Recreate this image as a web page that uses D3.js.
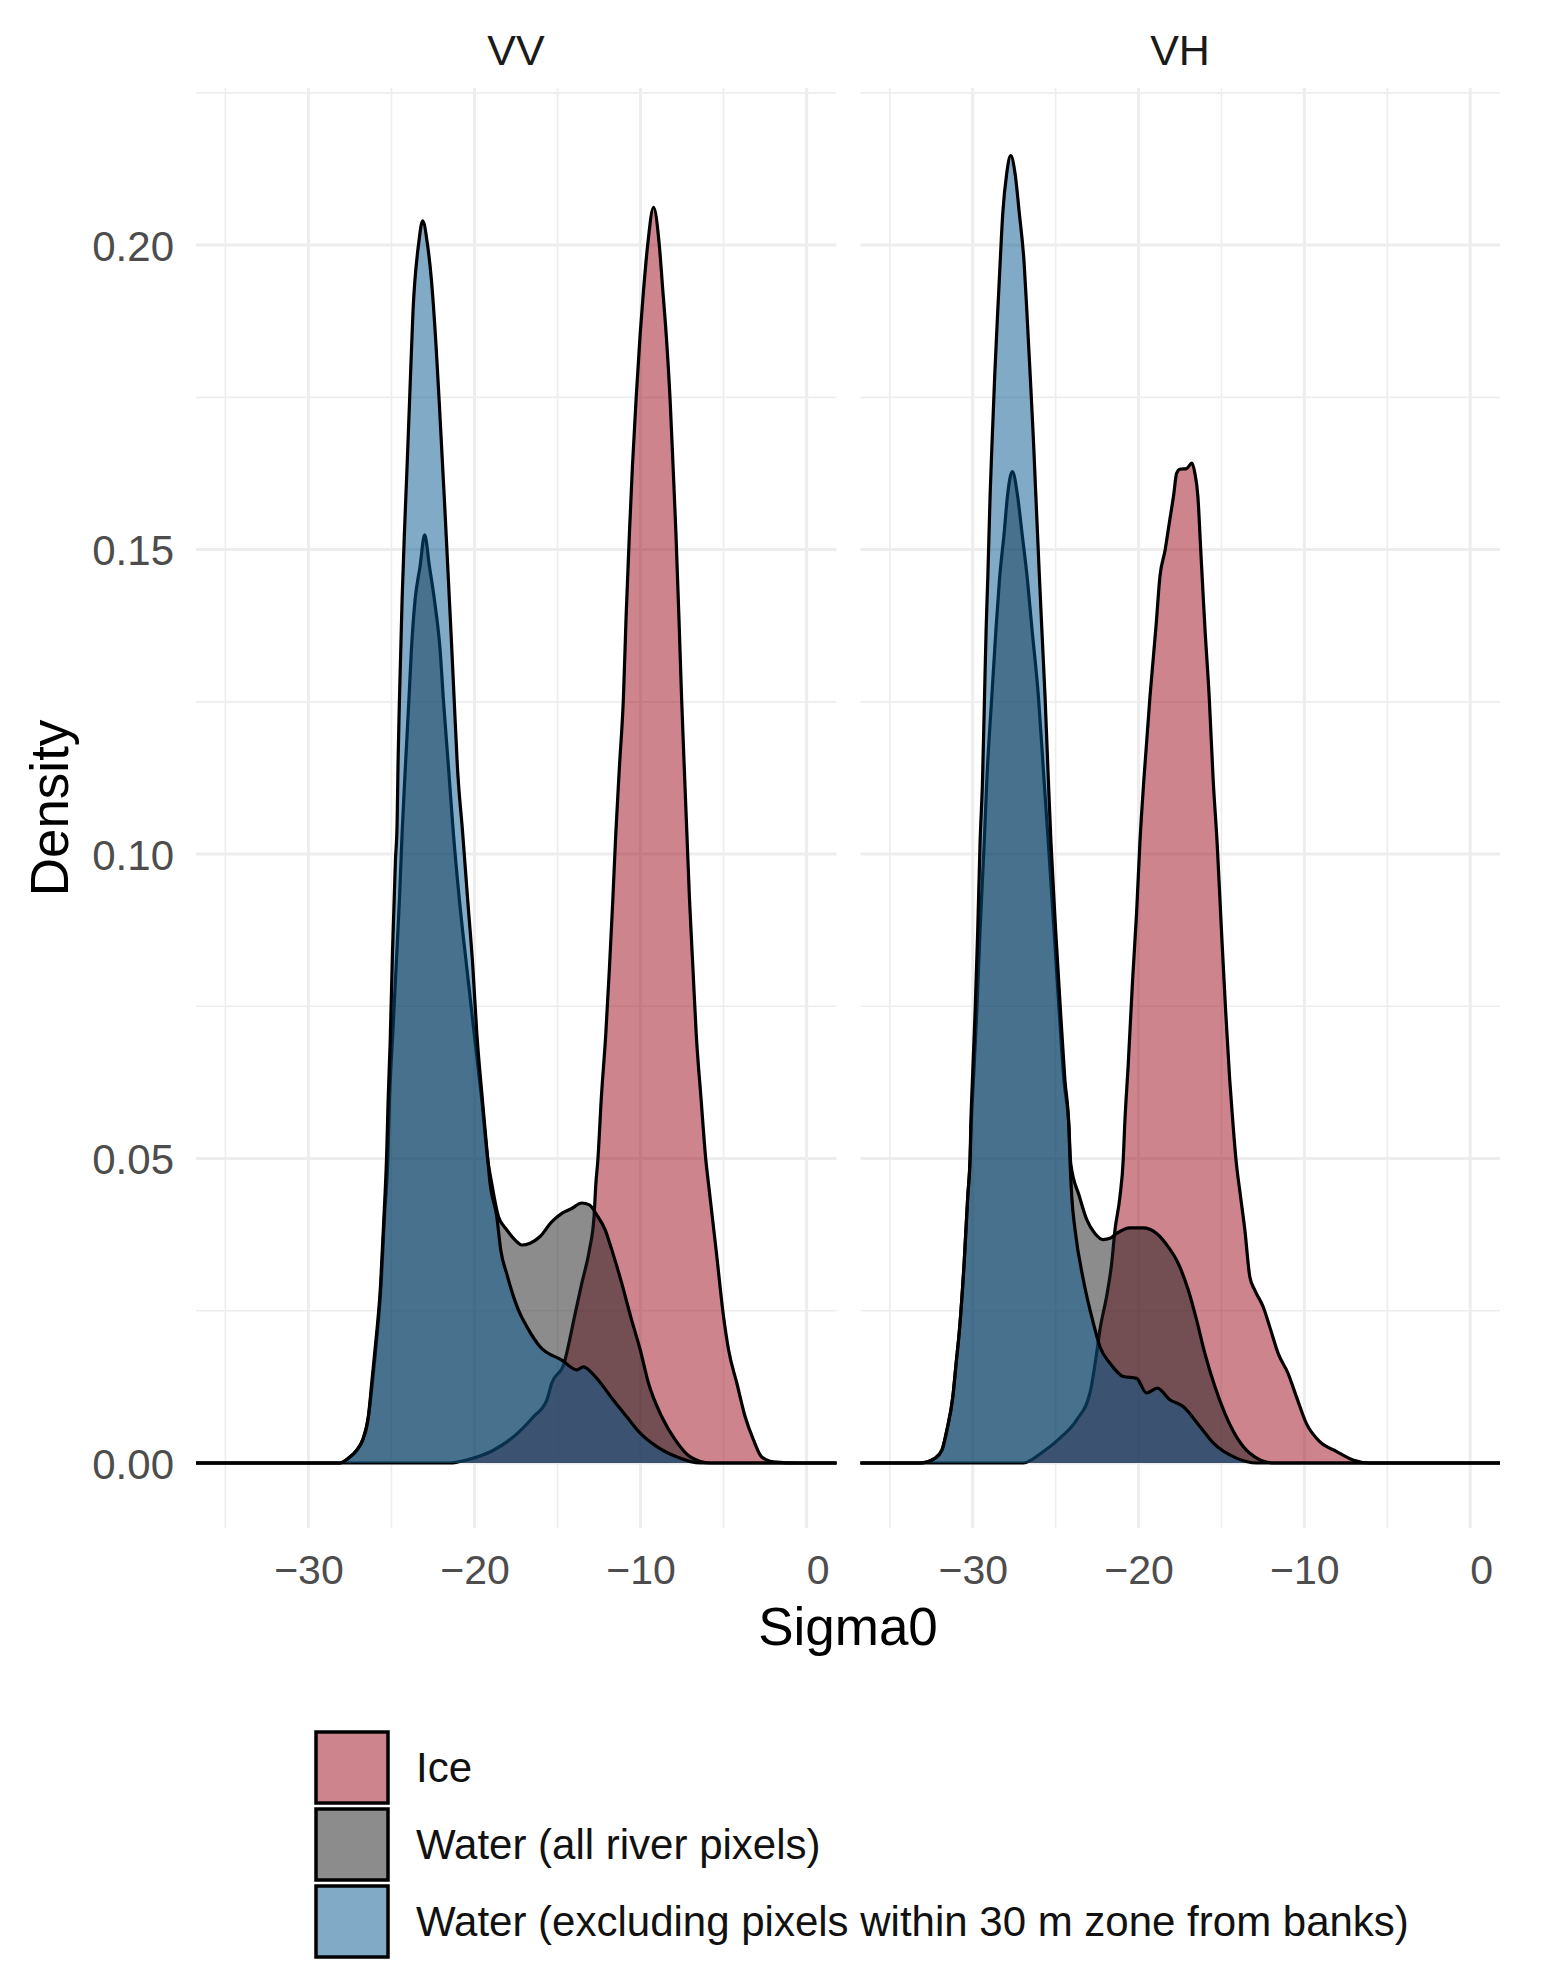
<!DOCTYPE html>
<html>
<head>
<meta charset="utf-8">
<title>Sigma0 density</title>
<script src="https://cdn.jsdelivr.net/npm/d3@7"></script>
<style>
  body { margin: 0; background: #fff; }
  text { font-family: "Liberation Sans", Arial, sans-serif; }
</style>
</head>
<body>
<svg id="chart" width="1556" height="1984"></svg>
<script>
// [Sigma0, density]
let vvIce = [[-36.77,0],[-21.47,0],[-20.47,.0005],[-18.86,.0021],[-17.65,.0043],[-16.45,.0076],[-15.65,.0103],[-15.35,.0131],[-14.6,.0164],[-14.4,.0186],[-13.98,.024],[-13.54,.0295],[-13.08,.035],[-12.8,.0405],[-12.69,.0459],[-12.57,.0498],[-12.37,.0596],[-12.09,.0706],[-11.87,.0815],[-11.67,.0925],[-11.49,.1034],[-11.27,.1144],[-11.03,.1258],[-10.87,.139],[-10.67,.1527],[-10.49,.1636],[-10.26,.1751],[-10.02,.1855],[-9.82,.1926],[-9.56,.2003],[-9.22,.2062],[-8.88,.2003],[-8.66,.1926],[-8.46,.1855],[-8.22,.1746],[-8.04,.1636],[-7.87,.1527],[-7.69,.139],[-7.53,.1258],[-7.37,.1144],[-7.21,.1034],[-7.05,.0925],[-6.85,.0815],[-6.65,.0706],[-6.35,.0596],[-6.07,.0498],[-5.91,.0459],[-5.45,.035],[-5,.024],[-4.7,.0186],[-4.2,.0131],[-3.7,.0076],[-3.2,.0038],[-2.7,.001],[-2,.0002],[-.4,0],[1.8,0]];
let vvWaterAll = [[-36.77,0],[-28.1,0],[-27.59,.0008],[-27.09,.0021],[-26.73,.0038],[-26.39,.0076],[-26.15,.0131],[-25.95,.0186],[-25.62,.0295],[-25.42,.0405],[-25.22,.0498],[-25.12,.0596],[-24.92,.0706],[-24.72,.0815],[-24.52,.0925],[-24.36,.1034],[-24.16,.1144],[-23.94,.1258],[-23.8,.1335],[-23.58,.1417],[-23.28,.1472],[-23,.1524],[-22.71,.1472],[-22.41,.1417],[-22.07,.1335],[-21.87,.1253],[-21.57,.1144],[-21.27,.1034],[-20.91,.0925],[-20.47,.0815],[-20.02,.0706],[-19.56,.0596],[-19.2,.0498],[-18.96,.0459],[-18.56,.0405],[-18.06,.0383],[-17.55,.0366],[-17.15,.0358],[-16.65,.0361],[-16.05,.0372],[-15.35,.0396],[-14.74,.041],[-14.14,.0418],[-13.54,.0427],[-13.08,.0424],[-12.63,.0407],[-12.13,.0383],[-11.73,.035],[-11.13,.0295],[-10.59,.024],[-10.02,.0186],[-9.52,.0131],[-8.72,.0076],[-7.91,.0038],[-7,.001],[-5.8,0],[1.8,0]];
let vvWaterExcl = [[-36.77,0],[-28.1,0],[-27.59,.0008],[-27.09,.0021],[-26.73,.0038],[-26.39,.0076],[-26.19,.0131],[-25.99,.0186],[-25.65,.0295],[-25.45,.0405],[-25.28,.0514],[-25.2,.0596],[-25.08,.0689],[-24.94,.0837],[-24.76,.099],[-24.66,.105],[-24.6,.1154],[-24.52,.1253],[-24.36,.1417],[-24.22,.1527],[-24.06,.1636],[-23.9,.1751],[-23.7,.1893],[-23.36,.2003],[-23.12,.204],[-22.84,.2003],[-22.61,.1948],[-22.31,.1833],[-22.13,.1746],[-21.95,.1653],[-21.81,.1581],[-21.61,.1472],[-21.41,.1362],[-21.23,.1258],[-21.03,.1144],[-20.71,.1034],[-20.41,.0925],[-20.1,.0815],[-19.86,.0706],[-19.52,.0596],[-19.2,.0498],[-19.06,.0459],[-18.66,.0405],[-18.42,.035],[-18.06,.0311],[-17.35,.0251],[-16.85,.0224],[-16.05,.0191],[-14.74,.0169],[-13.84,.0153],[-13.44,.0158],[-12.73,.0142],[-11.63,.0103],[-10.83,.0076],[-10.02,.0049],[-9.02,.0027],[-7.8,.001],[-6.4,0],[1.8,0]];

let vhIce = [[-36.77,0],[-26.95,0],[-25.74,.0019],[-24.74,.0041],[-23.73,.0071],[-22.93,.0115],[-22.53,.018],[-22.33,.0219],[-21.93,.0273],[-21.62,.0328],[-21.42,.0383],[-21.12,.0438],[-20.92,.05],[-20.84,.0552],[-20.62,.0656],[-20.36,.0793],[-20.12,.0903],[-19.92,.1018],[-19.68,.1122],[-19.31,.1259],[-18.95,.1373],[-18.71,.1456],[-18.4,.1499],[-18.15,.1543],[-17.87,.1592],[-17.71,.1625],[-17.51,.1632],[-17.11,.1633],[-16.78,.1642],[-16.6,.1625],[-16.42,.1587],[-16.26,.1505],[-16.1,.1423],[-16,.1373],[-15.74,.1259],[-15.5,.1122],[-15.26,.1018],[-15,.0875],[-14.74,.0739],[-14.5,.0629],[-14.29,.0552],[-14.13,.05],[-13.85,.0438],[-13.59,.0383],[-13.29,.0306],[-12.99,.0284],[-12.49,.0257],[-12.09,.0224],[-11.58,.018],[-10.98,.0147],[-10.48,.0109],[-9.88,.0065],[-9.07,.0035],[-8.07,.0019],[-7.07,.0005],[-6.06,0],[1.8,0]];
let vhWaterAll = [[-36.77,0],[-33.17,0],[-32.27,.0008],[-31.86,.0021],[-31.56,.0054],[-31.2,.0109],[-31,.0164],[-30.8,.0219],[-30.52,.0328],[-30.3,.0438],[-30.16,.05],[-30.1,.0552],[-29.96,.0629],[-29.76,.0739],[-29.56,.0875],[-29.31,.1018],[-29.15,.1122],[-28.85,.1259],[-28.59,.1373],[-28.39,.145],[-28.09,.1532],[-27.91,.1587],[-27.61,.1628],[-27.29,.1587],[-27.05,.1532],[-26.7,.145],[-26.44,.1373],[-26.04,.1259],[-25.7,.1122],[-25.44,.1018],[-25.1,.0875],[-24.78,.0739],[-24.5,.0629],[-24.2,.0552],[-24.09,.0492],[-23.57,.0438],[-23.13,.04],[-22.63,.0377],[-22.13,.0367],[-21.72,.0369],[-21.32,.0377],[-20.52,.0386],[-19.72,.0386],[-18.91,.0377],[-18.21,.0355],[-17.61,.0328],[-17,.0284],[-16.5,.0235],[-16,.018],[-15.4,.0126],[-14.8,.0082],[-14.09,.0043],[-13.29,.0016],[-11.88,0],[1.8,0]];
let vhWaterExcl = [[-36.77,0],[-33.17,0],[-32.27,.0008],[-31.86,.0021],[-31.56,.0054],[-31.2,.0109],[-31,.0164],[-30.8,.0219],[-30.52,.0328],[-30.3,.0438],[-30.16,.05],[-30.12,.0552],[-30.02,.0629],[-29.86,.0739],[-29.7,.0875],[-29.56,.1018],[-29.41,.1122],[-29.29,.1259],[-29.19,.1373],[-29.09,.1456],[-28.95,.1592],[-28.83,.168],[-28.67,.1789],[-28.49,.1893],[-28.35,.197],[-28.19,.2052],[-27.95,.2118],[-27.71,.2147],[-27.45,.2118],[-27.19,.2052],[-26.9,.197],[-26.74,.1893],[-26.54,.1789],[-26.34,.168],[-26.2,.1592],[-25.98,.1456],[-25.84,.1373],[-25.64,.1259],[-25.44,.1122],[-25.28,.1018],[-25,.0875],[-24.7,.0739],[-24.44,.0629],[-24.2,.0552],[-24.14,.05],[-24.03,.0438],[-23.83,.0383],[-23.33,.0301],[-22.73,.023],[-22.33,.0191],[-21.72,.0164],[-20.92,.0142],[-20.12,.0139],[-19.52,.0115],[-18.87,.0123],[-18.11,.0104],[-17.31,.0093],[-16.3,.006],[-15.5,.0033],[-14.09,.0008],[-12.89,0],[1.8,0]];

let facets = ["VV", "VH"];
let groups = ["Ice", "Water (all river pixels)", "Water (excluding pixels within 30 m zone from banks)"];
let fills = ["#9b0a1a", "#1a1a1a", "#04558f"];
let xMajor = [-30, -20, -10, 0];
let xMinor = [-35, -25, -15, -5];
let yMajor = [0, 0.05, 0.1, 0.15, 0.2];
let yMinor = [0.025, 0.075, 0.125, 0.175, 0.225];

let series = {
  VV: [vvIce, vvWaterAll, vvWaterExcl],
  VH: [vhIce, vhWaterAll, vhWaterExcl]
};
let panelRange = { VV: [196, 836.5], VH: [860.5, 1500] };
let titleX = { VV: 516, VH: 1180 };

let svg = d3.select("#chart");
let y = d3.scaleLinear().domain([-0.01067, 0.2258]).range([1528, 88]);

function drawPanel(name, index) {
  let x = d3.scaleLinear().domain([-36.77, 1.8]).range(panelRange[name]);
  let panel = svg.append("g").attr("class", "panel");
  let grid = panel.append("g").attr("stroke", "#ededed").attr("fill", "none");

  function gridY(values, width) {
    grid.selectAll(null).data(values).enter().append("line")
      .attr("x1", panelRange[name][0]).attr("x2", panelRange[name][1])
      .attr("y1", d => y(d)).attr("y2", d => y(d))
      .attr("stroke-width", width);
  }
  function gridX(values, width) {
    grid.selectAll(null).data(values).enter().append("line")
      .attr("x1", d => x(d)).attr("x2", d => x(d))
      .attr("y1", 88).attr("y2", 1528)
      .attr("stroke-width", width);
  }
  gridY(yMinor, 1.6);
  gridX(xMinor, 1.6);
  gridY(yMajor, 3);
  gridX(xMajor, 3);

  let area = d3.area().x(d => x(d[0])).y0(y(0)).y1(d => y(d[1])).curve(d3.curveMonotoneX);
  let line = d3.line().x(d => x(d[0])).y(d => y(d[1])).curve(d3.curveMonotoneX);

  // same order as the legend so the water layers sit on top of the ice
  series[name].forEach(function(values, i) {
    panel.append("path").attr("d", area(values)).attr("fill", fills[i]).attr("fill-opacity", 0.5);
    panel.append("path").attr("d", line(values)).attr("fill", "none")
      .attr("stroke", "#000").attr("stroke-width", 3.2).attr("stroke-linejoin", "round");
  });

  let xAxis = d3.axisBottom(x).tickValues(xMajor).tickSize(0)
    .tickFormat(d => d < 0 ? "\u2212" + Math.abs(d) : String(d));
  let xg = svg.append("g").attr("transform", "translate(0,1528)").call(xAxis);
  xg.select(".domain").remove();
  xg.selectAll("text").attr("y", 0).attr("dy", 56).attr("font-size", 41).attr("fill", "#4d4d4d")
    .attr("dx", d => d === 0 ? 11 : 0);

  svg.append("text").attr("x", titleX[name]).attr("y", 65).attr("text-anchor", "middle")
    .attr("font-size", 43).attr("fill", "#1a1a1a").text(name);

  if (index === 0) {
    let yAxis = d3.axisLeft(y).tickValues(yMajor).tickSize(0).tickFormat(d3.format(".2f"));
    let yg = svg.append("g").attr("transform", "translate(174,0)").call(yAxis);
    yg.select(".domain").remove();
    yg.selectAll("text").attr("x", 0).attr("dy", 15).attr("font-size", 42).attr("fill", "#4d4d4d");
  }
}

facets.forEach(drawPanel);

svg.append("text").attr("x", 848).attr("y", 1645).attr("text-anchor", "middle")
  .attr("font-size", 53).attr("fill", "#000").text("Sigma0");
svg.append("text").attr("transform", "translate(68,808) rotate(-90)").attr("text-anchor", "middle")
  .attr("font-size", 53).attr("fill", "#000").text("Density");

// legend
let keyY = d3.scaleBand().domain(groups).range([1730, 1961]);
let legend = svg.selectAll(".key").data(groups).enter().append("g").attr("class", "key");
legend.append("rect").attr("x", 316).attr("y", d => keyY(d) + 2)
  .attr("width", 72).attr("height", keyY.bandwidth() - 6)
  .attr("fill", (d, i) => fills[i]).attr("fill-opacity", 0.5)
  .attr("stroke", "#000").attr("stroke-width", 3.5);
legend.append("text").attr("x", 416).attr("y", d => keyY(d) + keyY.bandwidth() / 2 + 13)
  .attr("font-size", 42).attr("fill", "#111").text(d => d);
</script>
</body>
</html>
